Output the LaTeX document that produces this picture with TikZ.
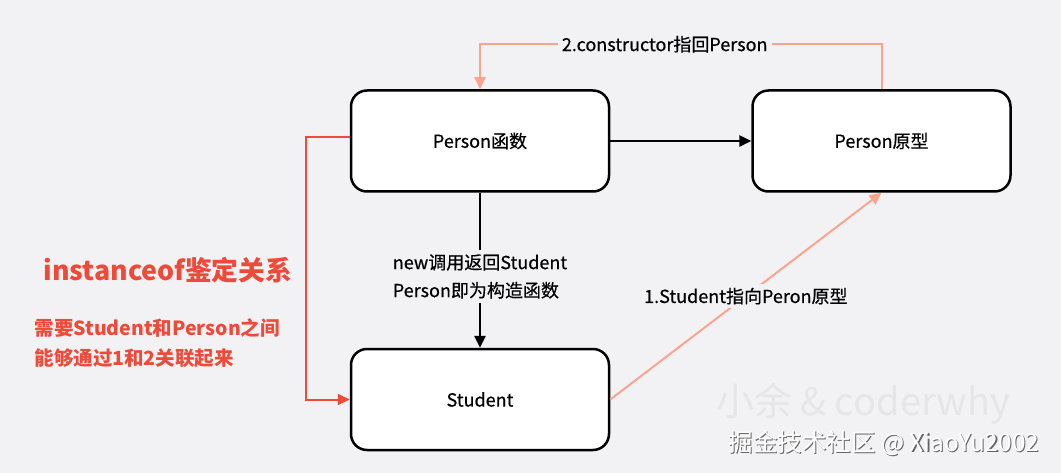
\documentclass[tikz,border=0pt]{standalone}
\usepackage{fontspec}
\setmainfont{Noto Sans CJK SC}
\newfontfamily\medfont[FakeBold=0.5]{Noto Sans CJK SC}
\usepackage{xcolor}
\usetikzlibrary{arrows.meta, positioning}
\definecolor{bgc}{HTML}{F2F2F4}
\definecolor{salmon}{HTML}{F9A48E}
\definecolor{redline}{HTML}{EE4A3A}
\definecolor{wmark}{HTML}{E6E6E9}

\begin{document}
\begin{tikzpicture}[x=1pt, y=-1pt, >={Triangle[length=12pt, width=11pt]},
  box/.style={draw, line width=2.5pt, rounded corners=16pt, fill=white,
    minimum width=258pt, minimum height=101pt, font=\medfont\fontsize{18}{22}\selectfont},
  lbl/.style={fill=bgc, inner sep=4pt, font=\medfont\fontsize{18}{28}\selectfont},
  node distance=155pt and 141pt]
  % background and bounding box
  \fill[bgc] (0,0) rectangle (1061,473);
  \useasboundingbox (0,0) rectangle (1061,473);

  % Boxes
  \node[box] (pfunc) at (480,141) {Person函数};
  \node[box, right=of pfunc] (pproto) {Person原型};
  \node[box, below=of pfunc] (student) {Student};

  % Black arrows
  \draw[->, line width=2.5pt] (pfunc) -- (pproto);
  \draw[->, line width=2.5pt] (pfunc) -- (student)
        node[lbl, pos=0.54, align=left] {new调用返回Student\\Person即为构造函数};

  % Salmon arrows
  \draw[->, salmon, line width=2pt] (pproto.north) -- ++(0,-45) -| (pfunc.north)
        node[lbl, pos=0.27, text=black] {2.constructor指回Person};
  \draw[->, salmon, line width=2pt] (student.east) -- (pproto.south)
        node[lbl, pos=0.5, text=black] {1.Student指向Peron原型};

  % Red bracket
  \draw[->, redline, line width=2pt] ([yshift=4pt]pfunc.west) -- ++(-44,0) |- (student.west);

  % Left notes
  \node[text=redline, font=\fontsize{26.8}{30}\selectfont\bfseries] (title) at (168,270) {instanceof鉴定关系};
  \node[text=redline, font=\fontsize{19.5}{30}\selectfont\bfseries, align=left, anchor=west]
        (note) at (31,343) {需要Student和Person之间\\能够通过1和2关联起来};

  % Watermarks
  \node[text=wmark, font=\fontsize{38}{42}\selectfont] (wmone) at (863,404) {小余 \& coderwhy};
  \node[text=black!60, font=\fontsize{24.5}{28}\selectfont] (wmshadow) at (885.2,444.2) {掘金技术社区 @ XiaoYu2002};
  \node[text=white, font=\fontsize{24.5}{28}\selectfont] (wmtwo) at (884,443) {掘金技术社区 @ XiaoYu2002};
\end{tikzpicture}
\end{document}
